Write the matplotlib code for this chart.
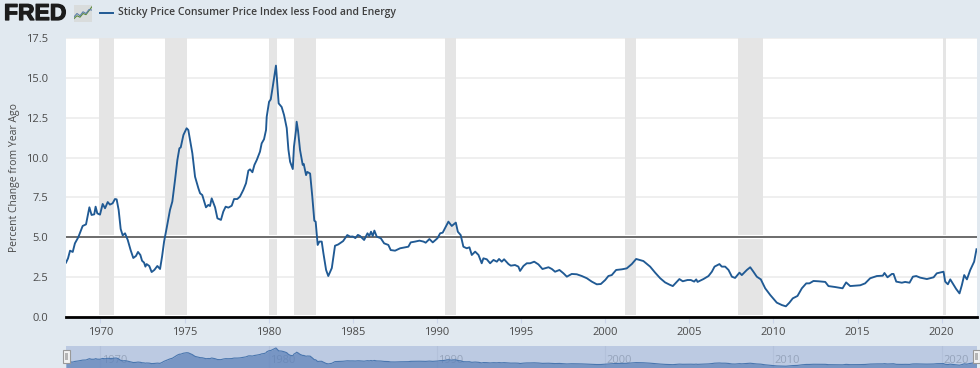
import matplotlib
matplotlib.use("Agg")
import matplotlib.pyplot as plt
import matplotlib.patheffects as pe
from matplotlib.lines import Line2D
from matplotlib.patches import Rectangle

W, H = 980, 368
BG = "#e1e9f0"
LINE = "#205a94"
TXT = "#4a4a4a"

SERIES_NAME = "Sticky Price Consumer Price Index less Food and Energy"
Y_LABEL = "Percent Change from Year Ago"

years = [
    1967.95, 1968.07, 1968.19, 1968.35, 1968.48, 1968.68, 1968.94, 1969.14, 1969.34, 1969.47,
    1969.63, 1969.71, 1969.81, 1969.97, 1970.13, 1970.27, 1970.43, 1970.56, 1970.72, 1970.86,
    1970.96, 1971.08, 1971.20, 1971.32, 1971.46, 1971.62, 1971.79, 1971.95, 1972.11, 1972.23,
    1972.37, 1972.47, 1972.59, 1972.67, 1972.74, 1972.90, 1973.04, 1973.20, 1973.38, 1973.54,
    1973.66, 1973.78, 1973.93, 1974.13, 1974.27, 1974.43, 1974.57, 1974.69, 1974.77, 1974.93,
    1975.04, 1975.12, 1975.22, 1975.46, 1975.62, 1975.82, 1975.92, 1976.05, 1976.27, 1976.41,
    1976.51, 1976.61, 1976.81, 1976.95, 1977.16, 1977.30, 1977.44, 1977.60, 1977.80, 1977.94,
    1978.13, 1978.29, 1978.49, 1978.65, 1978.79, 1978.89, 1979.03, 1979.15, 1979.29, 1979.48,
    1979.58, 1979.72, 1979.84, 1979.88, 1980.02, 1980.12, 1980.24, 1980.43, 1980.59, 1980.77,
    1980.91, 1981.07, 1981.17, 1981.27, 1981.43, 1981.50, 1981.62, 1981.66, 1981.74, 1981.86,
    1982.02, 1982.08, 1982.22, 1982.29, 1982.46, 1982.59, 1982.71, 1982.79, 1982.91, 1983.01,
    1983.15, 1983.25, 1983.41, 1983.54, 1983.75, 1983.94, 1984.13, 1984.42, 1984.67, 1984.84,
    1985.00, 1985.15, 1985.30, 1985.43, 1985.67, 1985.87, 1985.98, 1986.08, 1986.18, 1986.28,
    1986.42, 1986.66, 1986.86, 1987.11, 1987.25, 1987.51, 1987.81, 1988.30, 1988.44, 1988.70,
    1988.96, 1989.20, 1989.33, 1989.55, 1989.75, 1990.03, 1990.19, 1990.34, 1990.68, 1990.88,
    1991.12, 1991.24, 1991.41, 1991.57, 1991.77, 1991.93, 1992.07, 1992.27, 1992.47, 1992.66,
    1992.76, 1992.96, 1993.16, 1993.36, 1993.56, 1993.69, 1993.85, 1993.99, 1994.25, 1994.39,
    1994.64, 1994.84, 1994.94, 1995.14, 1995.34, 1995.54, 1995.78, 1996.03, 1996.27, 1996.63,
    1996.83, 1997.02, 1997.28, 1997.52, 1997.72, 1998.01, 1998.31, 1998.61, 1998.91, 1999.20,
    1999.50, 1999.74, 2000.00, 2000.19, 2000.39, 2000.65, 2000.99, 2001.28, 2001.58, 2001.84,
    2002.27, 2002.67, 2002.97, 2003.27, 2003.56, 2003.86, 2004.02, 2004.22, 2004.41, 2004.61,
    2004.89, 2005.09, 2005.29, 2005.41, 2005.49, 2005.84, 2006.14, 2006.34, 2006.50, 2006.79,
    2006.93, 2007.13, 2007.33, 2007.53, 2007.72, 2007.98, 2008.12, 2008.42, 2008.62, 2008.81,
    2009.01, 2009.25, 2009.51, 2009.81, 2010.20, 2010.50, 2010.74, 2010.95, 2011.15, 2011.43,
    2011.69, 2011.95, 2012.14, 2012.38, 2012.68, 2013.08, 2013.27, 2013.67, 2014.11, 2014.32,
    2014.56, 2015.16, 2015.45, 2015.75, 2016.15, 2016.50, 2016.60, 2016.78, 2017.04, 2017.14,
    2017.30, 2017.63, 2017.83, 2018.09, 2018.29, 2018.49, 2018.72, 2019.12, 2019.52, 2019.71,
    2020.11, 2020.21, 2020.37, 2020.51, 2020.71, 2020.86, 2021.06, 2021.20, 2021.34, 2021.50,
    2021.70, 2021.93, 2022.07,
]
values = [
    3.41, 3.68, 4.16, 4.08, 4.62, 5.00, 5.71, 5.81, 6.88, 6.40,
    6.44, 6.92, 6.50, 6.42, 7.09, 6.82, 7.21, 7.05, 7.13, 7.40,
    7.38, 6.71, 5.52, 5.12, 5.25, 4.83, 4.20, 3.70, 3.83, 4.08,
    3.89, 3.53, 3.41, 3.16, 3.32, 3.20, 2.82, 2.95, 3.20, 3.01,
    3.79, 4.73, 5.56, 6.71, 7.24, 8.59, 9.85, 10.58, 10.64, 11.42,
    11.67, 11.84, 11.73, 10.27, 8.80, 8.07, 7.76, 7.65, 6.88, 7.03,
    6.96, 7.44, 6.88, 6.19, 6.09, 6.61, 6.92, 6.86, 6.98, 7.40,
    7.40, 7.55, 7.97, 8.39, 9.18, 9.26, 9.08, 9.54, 9.85, 10.37,
    10.89, 11.15, 11.73, 12.56, 13.50, 13.65, 14.45, 15.77, 13.40, 13.17,
    12.67, 11.85, 10.50, 9.74, 9.28, 10.68, 11.70, 12.25, 11.70, 10.48,
    9.54, 9.60, 8.90, 9.10, 9.00, 7.55, 6.04, 5.98, 4.52, 4.73,
    4.73, 4.00, 2.95, 2.57, 3.07, 4.47, 4.55, 4.76, 5.14, 5.04,
    5.05, 4.95, 5.15, 5.08, 4.83, 5.25, 5.08, 5.35, 5.08, 5.42,
    5.04, 4.94, 4.62, 4.52, 4.20, 4.16, 4.31, 4.41, 4.68, 4.73,
    4.79, 4.73, 4.66, 4.89, 4.68, 4.94, 5.25, 5.29, 5.98, 5.71,
    5.92, 5.35, 5.14, 4.41, 4.31, 4.37, 3.89, 4.10, 3.89, 3.37,
    3.68, 3.62, 3.37, 3.58, 3.47, 3.64, 3.47, 3.62, 3.32, 3.22,
    3.26, 3.16, 2.89, 3.20, 3.37, 3.37, 3.47, 3.30, 3.01, 3.12,
    3.01, 2.84, 2.95, 2.74, 2.53, 2.70, 2.68, 2.57, 2.43, 2.22,
    2.05, 2.07, 2.32, 2.57, 2.63, 2.95, 2.99, 3.05, 3.32, 3.64,
    3.51, 3.16, 2.78, 2.43, 2.17, 2.01, 1.94, 2.17, 2.38, 2.24,
    2.32, 2.32, 2.22, 2.36, 2.20, 2.38, 2.57, 2.84, 3.16, 3.32,
    3.16, 3.16, 2.95, 2.53, 2.45, 2.78, 2.63, 2.95, 3.12, 2.84,
    2.53, 2.36, 1.80, 1.38, 0.90, 0.75, 0.67, 0.90, 1.17, 1.32,
    1.80, 2.11, 2.11, 2.26, 2.24, 2.20, 1.94, 1.88, 1.80, 2.17,
    1.94, 1.99, 2.11, 2.43, 2.57, 2.59, 2.76, 2.49, 2.70, 2.70,
    2.22, 2.15, 2.20, 2.15, 2.53, 2.57, 2.47, 2.38, 2.49, 2.74,
    2.84, 2.22, 2.05, 2.36, 2.01, 1.76, 1.48, 2.00, 2.63, 2.36,
    2.95, 3.47, 4.25,
]

recession_start = [1969.91, 1973.83, 1980.04, 1981.50, 1990.50, 2001.20, 2007.90, 2020.10]
recession_end = [1970.80, 1975.14, 1980.47, 1982.81, 1991.13, 2001.84, 2009.40, 2020.25]

x_ticks = [1970, 1975, 1980, 1985, 1990, 1995, 2000, 2005, 2010, 2015, 2020]
y_ticks = [0.0, 2.5, 5.0, 7.5, 10.0, 12.5, 15.0, 17.5]
nav_ticks = [1970, 1980, 1990, 2000, 2010, 2020]
ref_level = 5.0

plt.rcParams["font.family"] = ["Open Sans", "DejaVu Sans"]


def px_axes(fig, left, top, right, bottom):
    return fig.add_axes([left / W, 1 - bottom / H, (right - left) / W, (bottom - top) / H])


fig = plt.figure(figsize=(W / 100, H / 100), dpi=100, facecolor=BG)

# main chart
ax = px_axes(fig, 66, 38, 977, 317)
ax.set_xlim(1967.95, 2022.1)
ax.set_ylim(0, 17.5)
ax.set_facecolor("white")
for s in ax.spines.values():
    s.set_visible(False)
ax.grid(axis="y", color="#ececec", lw=1.2, zorder=0)
ax.set_axisbelow(True)
for a, b in zip(recession_start, recession_end):
    ax.axvspan(a, b, ymin=0.008, color="#e5e5e5", lw=0, zorder=1)
ax.axhline(ref_level, color="white", lw=3, zorder=2)
ax.axhline(ref_level, color="#444444", lw=1.1, zorder=3)
ax.plot(years, values, color=LINE, lw=1.35, zorder=4, solid_joinstyle="round")
ax.axhline(0, color="black", lw=2.0, zorder=5, clip_on=False)

ax.set_xticks(x_ticks)
ax.set_yticks(y_ticks)
ax.set_yticklabels([f"{v:.1f}" for v in y_ticks])
ax.tick_params(axis="x", length=4, width=0.8, color="#ccd6eb", labelcolor=TXT, labelsize=8.0, pad=3)
ax.tick_params(axis="y", length=0, labelcolor=TXT, labelsize=8.0, pad=13)
fig.text(15 / W, 1 - 177.5 / H, Y_LABEL, rotation=90, ha="center", va="center",
         color=TXT, fontsize=7.5)

# navigator strip at the bottom
nav = px_axes(fig, 66, 346, 977, 368)
nav.set_xlim(1967.95, 2022.1)
nav.set_ylim(-0.83, 17.4)
nav.set_facecolor("#bccae2")
for s in nav.spines.values():
    s.set_visible(False)
nav.set_xticks([])
nav.set_yticks([])
for t in nav_ticks:
    nav.axvline(t, color="#b3c1da", lw=0.8, zorder=1)
    nav.annotate(str(t), (t, 0), xytext=(1, 0.5), textcoords="offset points",
                 color="#96a4bb", fontsize=8.0, ha="left", va="bottom", zorder=1)
nav.fill_between(years, values, -0.83, color="#5b80b8", alpha=0.7, lw=0, zorder=2)
nav.plot(years, values, color="#4a76ae", lw=0.8, zorder=3)

for hx in (66, 976):
    fig.add_artist(Rectangle(((hx - 3.5) / W, 1 - 363 / H), 7 / W, 13 / H, transform=fig.transFigure,
                             fc="#f2f2f2", ec="#999999", lw=0.8, zorder=6))
    fig.add_artist(Rectangle(((hx - 1.5) / W, 1 - 360 / H), 3 / W, 7 / H, transform=fig.transFigure,
                             fc="#b5b5b5", ec="none", zorder=7))

# header: logo and series legend
logo = fig.text(4 / W, 1 - 13.5 / H, "FRED", fontsize=16.5, fontweight="bold", family="Liberation Sans",
                color="#1c1c1c", ha="left", va="center")
logo.set_path_effects([pe.withStroke(linewidth=0.9, foreground="#1c1c1c")])
icon = px_axes(fig, 74, 5, 92, 22)
icon.set_xlim(0, 6)
icon.set_ylim(0, 6)
icon.axis("off")
icon.add_patch(Rectangle((0, 0), 6, 6, fc="#d9dcdc", ec="none"))
icon.plot([0, 1, 2, 3, 4, 5, 6], [1.2, 2.2, 1.7, 3.0, 2.6, 4.0, 5.4], color="#5c8a3c", lw=0.8)
icon.plot([0, 1, 2, 3, 4, 5, 6], [1.8, 3.0, 2.2, 3.6, 3.0, 4.4, 4.2], color="#5b7fa8", lw=0.8)

fig.add_artist(Line2D([100 / W, 113 / W], [1 - 12.5 / H] * 2, color=LINE, lw=1.4))
fig.text(118 / W, 1 - 12.5 / H, SERIES_NAME, fontsize=7.5, fontweight="semibold",
         color="#3f3f3f", ha="left", va="center")

plt.savefig("out.png", dpi=100, facecolor=BG)
plt.close()
